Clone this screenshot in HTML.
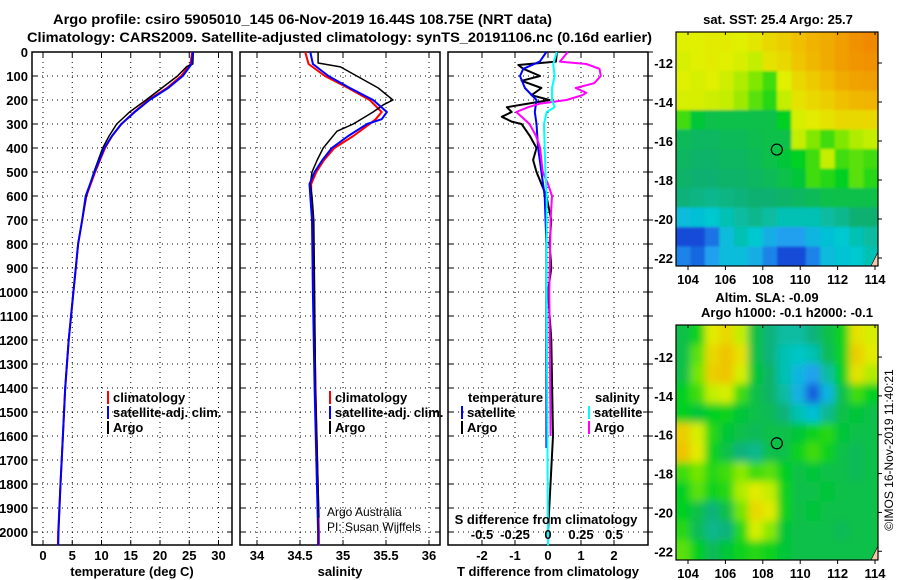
<!DOCTYPE html>
<html><head><meta charset="utf-8"><style>
html,body{margin:0;padding:0;background:#fff;}
svg{display:block;font-family:"Liberation Sans",sans-serif;}
.t{font-weight:bold;font-size:13px;fill:#000;}
</style></head><body>
<svg id="c" width="900" height="580" viewBox="0 0 900 580" xmlns="http://www.w3.org/2000/svg"></svg>
<script>
// ---------- data ----------
const tDepth=[0,50,60,100,150,200,250,300,350,400,500,600,700,800,900,1000,1200,1400,1600,1800,1940];
const tArgo=[25.7,25.6,24.6,23,20.3,17.6,14.8,12.6,11.3,10.2,8.7,7.4,6.7,6.0,5.6,5.2,4.4,3.8,3.4,3.0,2.75];
const cDepth=[0,50,100,150,200,250,300,350,400,500,600,700,800,900,1000,1200,1400,1600,1800,2000,2055];
const tClim=[25.5,25.2,23.6,21.2,18.0,15.6,13.4,11.8,10.6,8.9,7.4,6.7,6.0,5.6,5.2,4.4,3.8,3.4,3.0,2.6,2.55];
const tSat=[25.6,25.4,23.9,21.4,18.2,15.7,13.4,11.8,10.5,8.8,7.3,6.7,6.0,5.6,5.2,4.4,3.8,3.4,3.0,2.65,2.6];
const sDepth=[0,46,62,100,150,200,220,250,300,330,400,450,500,550,600,700,1000,1400,1940];
const sArgo=[34.71,34.71,34.97,35.16,35.41,35.58,35.47,35.35,35.12,34.93,34.77,34.70,34.64,34.62,34.64,34.66,34.67,34.68,34.72];
const s2Depth=[0,50,100,150,200,250,280,300,350,400,450,500,550,600,700,1000,1400,2000,2055];
const sClim=[34.56,34.60,34.79,35.06,35.31,35.45,35.38,35.31,35.12,34.90,34.78,34.69,34.63,34.63,34.65,34.66,34.68,34.72,34.72];
const sSat=[34.62,34.65,34.83,35.08,35.35,35.51,35.45,35.28,35.06,34.87,34.76,34.67,34.61,34.62,34.64,34.65,34.67,34.71,34.71];
const dTDepth=[0,40,54,70,100,120,150,180,200,230,250,270,290,300,350,400,450,500,550,600,700,800,900,1000,1200,1600,2000];
const dTArgo=[0.27,0.24,-0.9,-0.75,-0.24,-0.8,-0.2,-0.5,0.05,-1.25,-1.1,-1.4,-1.1,-0.8,-0.55,-0.35,-0.45,-0.35,-0.2,-0.05,0.1,0.05,0.1,0.0,0.1,0.15,0.0];
const dTSDepth=[0,40,70,100,150,200,250,300,400,500,600,800,1650];
const dTSat=[-0.05,-0.25,-0.75,-0.85,-0.7,-0.35,-0.4,-0.35,-0.3,-0.2,-0.1,-0.05,-0.05];
const dSDepth=[0,50,100,150,200,230,250,300,400,500,600,800,1000,2055];
const dSSat=[0.066,0.04,0.05,0.03,0.03,0.05,-0.01,-0.03,-0.025,-0.02,-0.01,-0.01,-0.01,0];
const dSADepth=[0,40,50,70,100,130,150,170,180,200,215,230,250,270,300,350,400,450,500,550,600,700,1000,1600];
const dSArgo=[0.15,0.09,0.29,0.39,0.4,0.35,0.21,0.29,0.26,0.14,-0.06,-0.15,-0.24,-0.2,-0.14,-0.09,-0.06,-0.05,-0.04,0,0.03,0.02,0.01,0.02];
const depthTicks=[0,100,200,300,400,500,600,700,800,900,1000,1100,1200,1300,1400,1500,1600,1700,1800,1900,2000];
const tTicks=[0,5,10,15,20,25,30];
const sTicks=[34,34.5,35,35.5,36];
const dTTicks=[-2,-1,0,1,2];
const dSTicks=[-0.5,-0.25,0,0.25,0.5];
const latTicks=[-12,-14,-16,-18,-20,-22];
const lonTicks=[104,106,108,110,112,114];
const sstGrid=[
[.75,.75,.76,.76,.75,.77,.8,.82,.85,.88,.9,.93,.96,.98],
[.74,.75,.76,.75,.74,.72,.78,.8,.84,.87,.9,.93,.95,.96],
[.75,.74,.75,.73,.7,.65,.6,.75,.8,.83,.86,.9,.92,.93],
[.74,.74,.73,.72,.68,.62,.58,.72,.78,.8,.82,.85,.87,.88],
[.6,.52,.5,.5,.5,.5,.5,.55,.74,.76,.78,.8,.8,.8],
[.48,.47,.47,.48,.48,.49,.5,.5,.72,.65,.6,.65,.7,.72],
[.47,.46,.46,.47,.47,.48,.5,.52,.55,.6,.72,.6,.62,.6],
[.46,.45,.45,.46,.46,.47,.48,.5,.52,.6,.58,.55,.62,.58],
[.44,.43,.42,.43,.44,.45,.45,.46,.47,.48,.5,.5,.5,.5],
[.3,.32,.35,.38,.4,.42,.4,.38,.38,.38,.4,.42,.45,.45],
[.05,.05,.12,.3,.38,.35,.25,.2,.2,.28,.32,.35,.38,.4],
[.15,.1,.2,.3,.3,.25,.15,.05,.05,.15,.3,.33,.35,.38]];
const slaGrid=[
[.5,.56,.76,.8,.72,.5,.44,.4,.4,.44,.5,.56,.78,.74],
[.5,.62,.8,.84,.78,.5,.44,.38,.36,.38,.48,.56,.82,.76],
[.5,.64,.82,.84,.74,.52,.46,.38,.28,.2,.4,.55,.78,.7],
[.55,.6,.72,.74,.6,.5,.46,.4,.26,.08,.28,.5,.6,.55],
[.55,.52,.55,.56,.52,.5,.48,.44,.38,.32,.42,.5,.52,.5],
[.82,.74,.58,.52,.5,.48,.5,.5,.52,.56,.58,.52,.5,.5],
[.84,.76,.56,.5,.44,.42,.5,.5,.56,.6,.56,.5,.48,.5],
[.6,.64,.58,.6,.66,.6,.62,.55,.5,.52,.5,.5,.48,.5],
[.55,.62,.56,.58,.7,.76,.72,.56,.5,.5,.52,.5,.5,.5],
[.55,.5,.44,.5,.64,.8,.76,.56,.5,.52,.5,.5,.5,.5],
[.58,.48,.42,.44,.58,.74,.66,.52,.5,.5,.5,.48,.5,.5],
[.62,.55,.48,.52,.56,.58,.56,.52,.5,.5,.5,.5,.5,.5]];

// ---------- helpers ----------
const svg=document.getElementById('c');
const NS='http://www.w3.org/2000/svg';
function mk(tag,at,parent){const e=document.createElementNS(NS,tag);for(const k in at)e.setAttribute(k,at[k]);(parent||svg).appendChild(e);return e;}
function txt(x,y,s,anchor,cls,extra){const e=mk('text',Object.assign({x:x,y:y,'text-anchor':anchor||'start','class':cls||'t'},extra||{}));e.textContent=s;return e;}
const Y0=52,Yb=545;
const yD=d=>Y0+d*0.24;
const panels=[
 {x0:32,x1:232,name:'temperature-panel',sx:v=>43+v*5.85,ticks:tTicks,title:'temperature (deg C)'},
 {x0:240,x1:440,name:'salinity-panel',sx:v=>257+(v-34)*86,ticks:sTicks,title:'salinity'},
 {x0:448,x1:648,name:'difference-panel',sx:v=>548+v*33,ticks:dTTicks,title:'T difference from climatology'}];
const sxS=v=>548+v*132;

panels.forEach((p,i)=>{
 const g=mk('g',{});
 
 
 depthTicks.forEach(d=>{const l=mk('line',{x1:p.x0,x2:p.x1,y1:yD(d),y2:yD(d),stroke:'#000','stroke-width':1,'stroke-dasharray':'1,4'},g);
  
  
  mk('line',{x1:p.x0,x2:p.x0+5,y1:yD(d),y2:yD(d),stroke:'#000'},g);mk('line',{x1:p.x1-5,x2:p.x1,y1:yD(d),y2:yD(d),stroke:'#000'},g);});
 p.ticks.forEach(v=>{const x=p.sx(v);const l=mk('line',{x1:x,x2:x,y1:Y0,y2:Yb,stroke:'#000','stroke-dasharray':'1,4'},g);
  
  
  mk('line',{x1:x,x2:x,y1:Y0,y2:Y0+5,stroke:'#000'},g);mk('line',{x1:x,x2:x,y1:Yb-5,y2:Yb,stroke:'#000'},g);
  const t=txt(x,560,String(v),'middle');
  
  });
 const r=mk('rect',{x:p.x0,y:Y0,width:p.x1-p.x0,height:Yb-Y0,fill:'none',stroke:'#000','stroke-width':1.5},g);
 
 
 const at=txt((p.x0+p.x1)/2,576,p.title,'middle');
 
 
});
depthTicks.forEach(d=>mk('line',{x1:648,x2:653,y1:yD(d),y2:yD(d),stroke:'#000'}));
depthTicks.forEach(d=>{const t=txt(28,yD(d)+5,String(d),'end');
 
 });

function line(ds,vs,sx,color,name,w){
 const pts=ds.map((d,i)=>sx(vs[i]).toFixed(1)+','+yD(d).toFixed(1)).join(' ');
 const e=mk('polyline',{points:pts,fill:'none',stroke:color,'stroke-width':w||2,'stroke-linejoin':'round'});
 
 
 return e;}
line(cDepth,tClim,panels[0].sx,'#f00','temperature-climatology-line');
line(tDepth,tArgo,panels[0].sx,'#000','temperature-argo-line',1.5);
line(cDepth,tSat,panels[0].sx,'#00f','temperature-satellite-line');
line(s2Depth,sClim,panels[1].sx,'#f00','salinity-climatology-line');
line(sDepth,sArgo,panels[1].sx,'#000','salinity-argo-line',1.5);
line(s2Depth,sSat,panels[1].sx,'#00f','salinity-satellite-line');
line(dTDepth,dTArgo,panels[2].sx,'#000','t-diff-argo-line');
line(dTSDepth,dTSat,panels[2].sx,'#00f','t-diff-satellite-line');
line(dSADepth,dSArgo,sxS,'#f0f','s-diff-argo-line');
line(dSDepth,dSSat,sxS,'#0ff','s-diff-satellite-line');

function leg(x,y,color,label,name){const b=mk('rect',{x:x,y:y-11,width:2,height:13,fill:color});
 
 
 const t=txt(x+6,y,label);
 
 }
leg(107,402,'#f00','climatology','legend-climatology');
leg(107,417,'#00f','satellite-adj. clim.','legend-satellite');
leg(107,432,'#000','Argo','legend-argo');
leg(329,402,'#f00','climatology','legend-climatology-s');
leg(329,417,'#00f','satellite-adj. clim.','legend-satellite-s');
leg(329,432,'#000','Argo','legend-argo-s');
let e=txt(468,402,'temperature');


leg(461,417,'#00f','satellite','legend-t-satellite');
leg(461,432,'#000','Argo','legend-t-argo');
e=txt(595,402,'salinity');


leg(588,417,'#0ff','satellite','legend-s-satellite');
leg(588,432,'#f0f','Argo','legend-s-argo');
e=txt(546,524,'S difference from climatology','middle');


dSTicks.forEach(v=>{const t=txt(sxS(v),539,'','middle');t.textContent=v===0?'0':(v<0?'-0':'0')+String(Math.abs(v)).slice(1);
 
 });
e=txt(327,516,'Argo Australia','start','',{style:'font-size:12px;font-weight:normal'});


e=txt(327,531,'PI: Susan Wijffels','start','',{style:'font-size:12px;font-weight:normal'});



e=txt(53,24,'Argo profile: csiro 5905010_145 06-Nov-2019 16.44S 108.75E (NRT data)','start','t',{textLength:499,lengthAdjust:'spacingAndGlyphs',style:'font-size:14px'});


e=txt(27,42,'Climatology: CARS2009. Satellite-adjusted climatology: synTS_20191106.nc (0.16d earlier)','start','t',{textLength:625,lengthAdjust:'spacingAndGlyphs',style:'font-size:14px'});



const stops=[[0,[16,48,208]],[0.2,[32,160,240]],[0.35,[0,200,208]],[0.45,[16,176,112]],[0.55,[0,208,32]],[0.65,[128,232,0]],[0.75,[224,240,0]],[0.85,[240,192,0]],[1,[240,128,0]]];
function cmap(v){for(let i=1;i<stops.length;i++){if(v<=stops[i][0]){const a=stops[i-1],b=stops[i],f=(v-a[0])/(b[0]-a[0]);return 'rgb('+a[1].map((c,k)=>Math.round(c+(b[1][k]-c)*f)).join(',')+')';}}return 'rgb(240,128,0)';}
const defs=mk('defs',{});
const f=mk('filter',{id:'bl',x:'-10%',y:'-10%',width:'120%',height:'120%'},defs);mk('feGaussianBlur',{stdDeviation:4},f);
const f2=mk('filter',{id:'bl2',x:'-10%',y:'-10%',width:'120%',height:'120%'},defs);mk('feGaussianBlur',{stdDeviation:1.2},f2);
function map(y0,y1,grid,name,filt,latTop,latBot){
 const x0=676,x1=878;
 const g=mk('g',{});
 
 
 const cp=mk('clipPath',{id:'clip'+name});mk('rect',{x:x0,y:y0,width:x1-x0,height:y1-y0},cp);
 const inner=mk('g',{'clip-path':'url(#clip'+name+')'},g);
 const cg=mk('g',{filter:'url(#'+filt+')'},inner);
 const R=grid.length,C=grid[0].length,cw=(x1-x0)/C,ch=(y1-y0)/R;
 grid.forEach((row,r)=>row.forEach((v,c)=>{
  const ex=(c===0?6:0),ey=(r===0?6:0),ex2=(c===C-1?6:0),ey2=(r===R-1?6:0);
  const cell=mk('rect',{x:(x0+c*cw-ex).toFixed(1),y:(y0+r*ch-ey).toFixed(1),width:(cw+0.6+ex+ex2).toFixed(1),height:(ch+0.6+ey+ey2).toFixed(1),fill:cmap(v)},cg);
  
  }));
 const lonX=l=>688+(l-104)*18.7;
 const latY=l=>y0+(latTop-l)/(latTop-latBot)*(y1-y0);
 const ci=mk('circle',{cx:lonX(108.75),cy:latY(-16.44),r:5.5,fill:'none',stroke:'#000','stroke-width':1.2},g);
 
 
 mk('polygon',{points:(x1-7)+','+y1+' '+x1+','+(y1-14)+' '+x1+','+y1,fill:'#f8c8a8',stroke:'#000','stroke-width':0.6},g);
 mk('rect',{x:x0,y:y0,width:x1-x0,height:y1-y0,fill:'none',stroke:'#000','stroke-width':1.2},g);
 latTicks.forEach(l=>{const y=latY(l);mk('line',{x1:x1,x2:x1+4,y1:y,y2:y,stroke:'#000'},g);
  const t=txt(673,y+5,String(l),'end');
  
  });
 lonTicks.forEach(l=>{const x=lonX(l);mk('line',{x1:x,x2:x,y1:y1,y2:y1+4,stroke:'#000'},g);mk('line',{x1:x,x2:x,y1:y0,y2:y0+3,stroke:'#000'},g);
  const t=txt(x,y1+18,String(l),'middle');
  
  });
}
map(32,266,sstGrid,'sst-map','bl2',-10.41,-22.41);
map(325,560,slaGrid,'sla-map','bl',-10.35,-22.45);
e=txt(778,24,'sat. SST: 25.4 Argo: 25.7','middle');


e=txt(767,302,'Altim. SLA: -0.09','middle');


e=txt(787,317,'Argo h1000: -0.1 h2000: -0.1','middle');


e=txt(0,0,'©IMOS 16-Nov-2019 11:40:21','middle','',{transform:'translate(893,450) rotate(-90)',style:'font-size:12px;font-weight:normal'});


</script>
</body></html>
